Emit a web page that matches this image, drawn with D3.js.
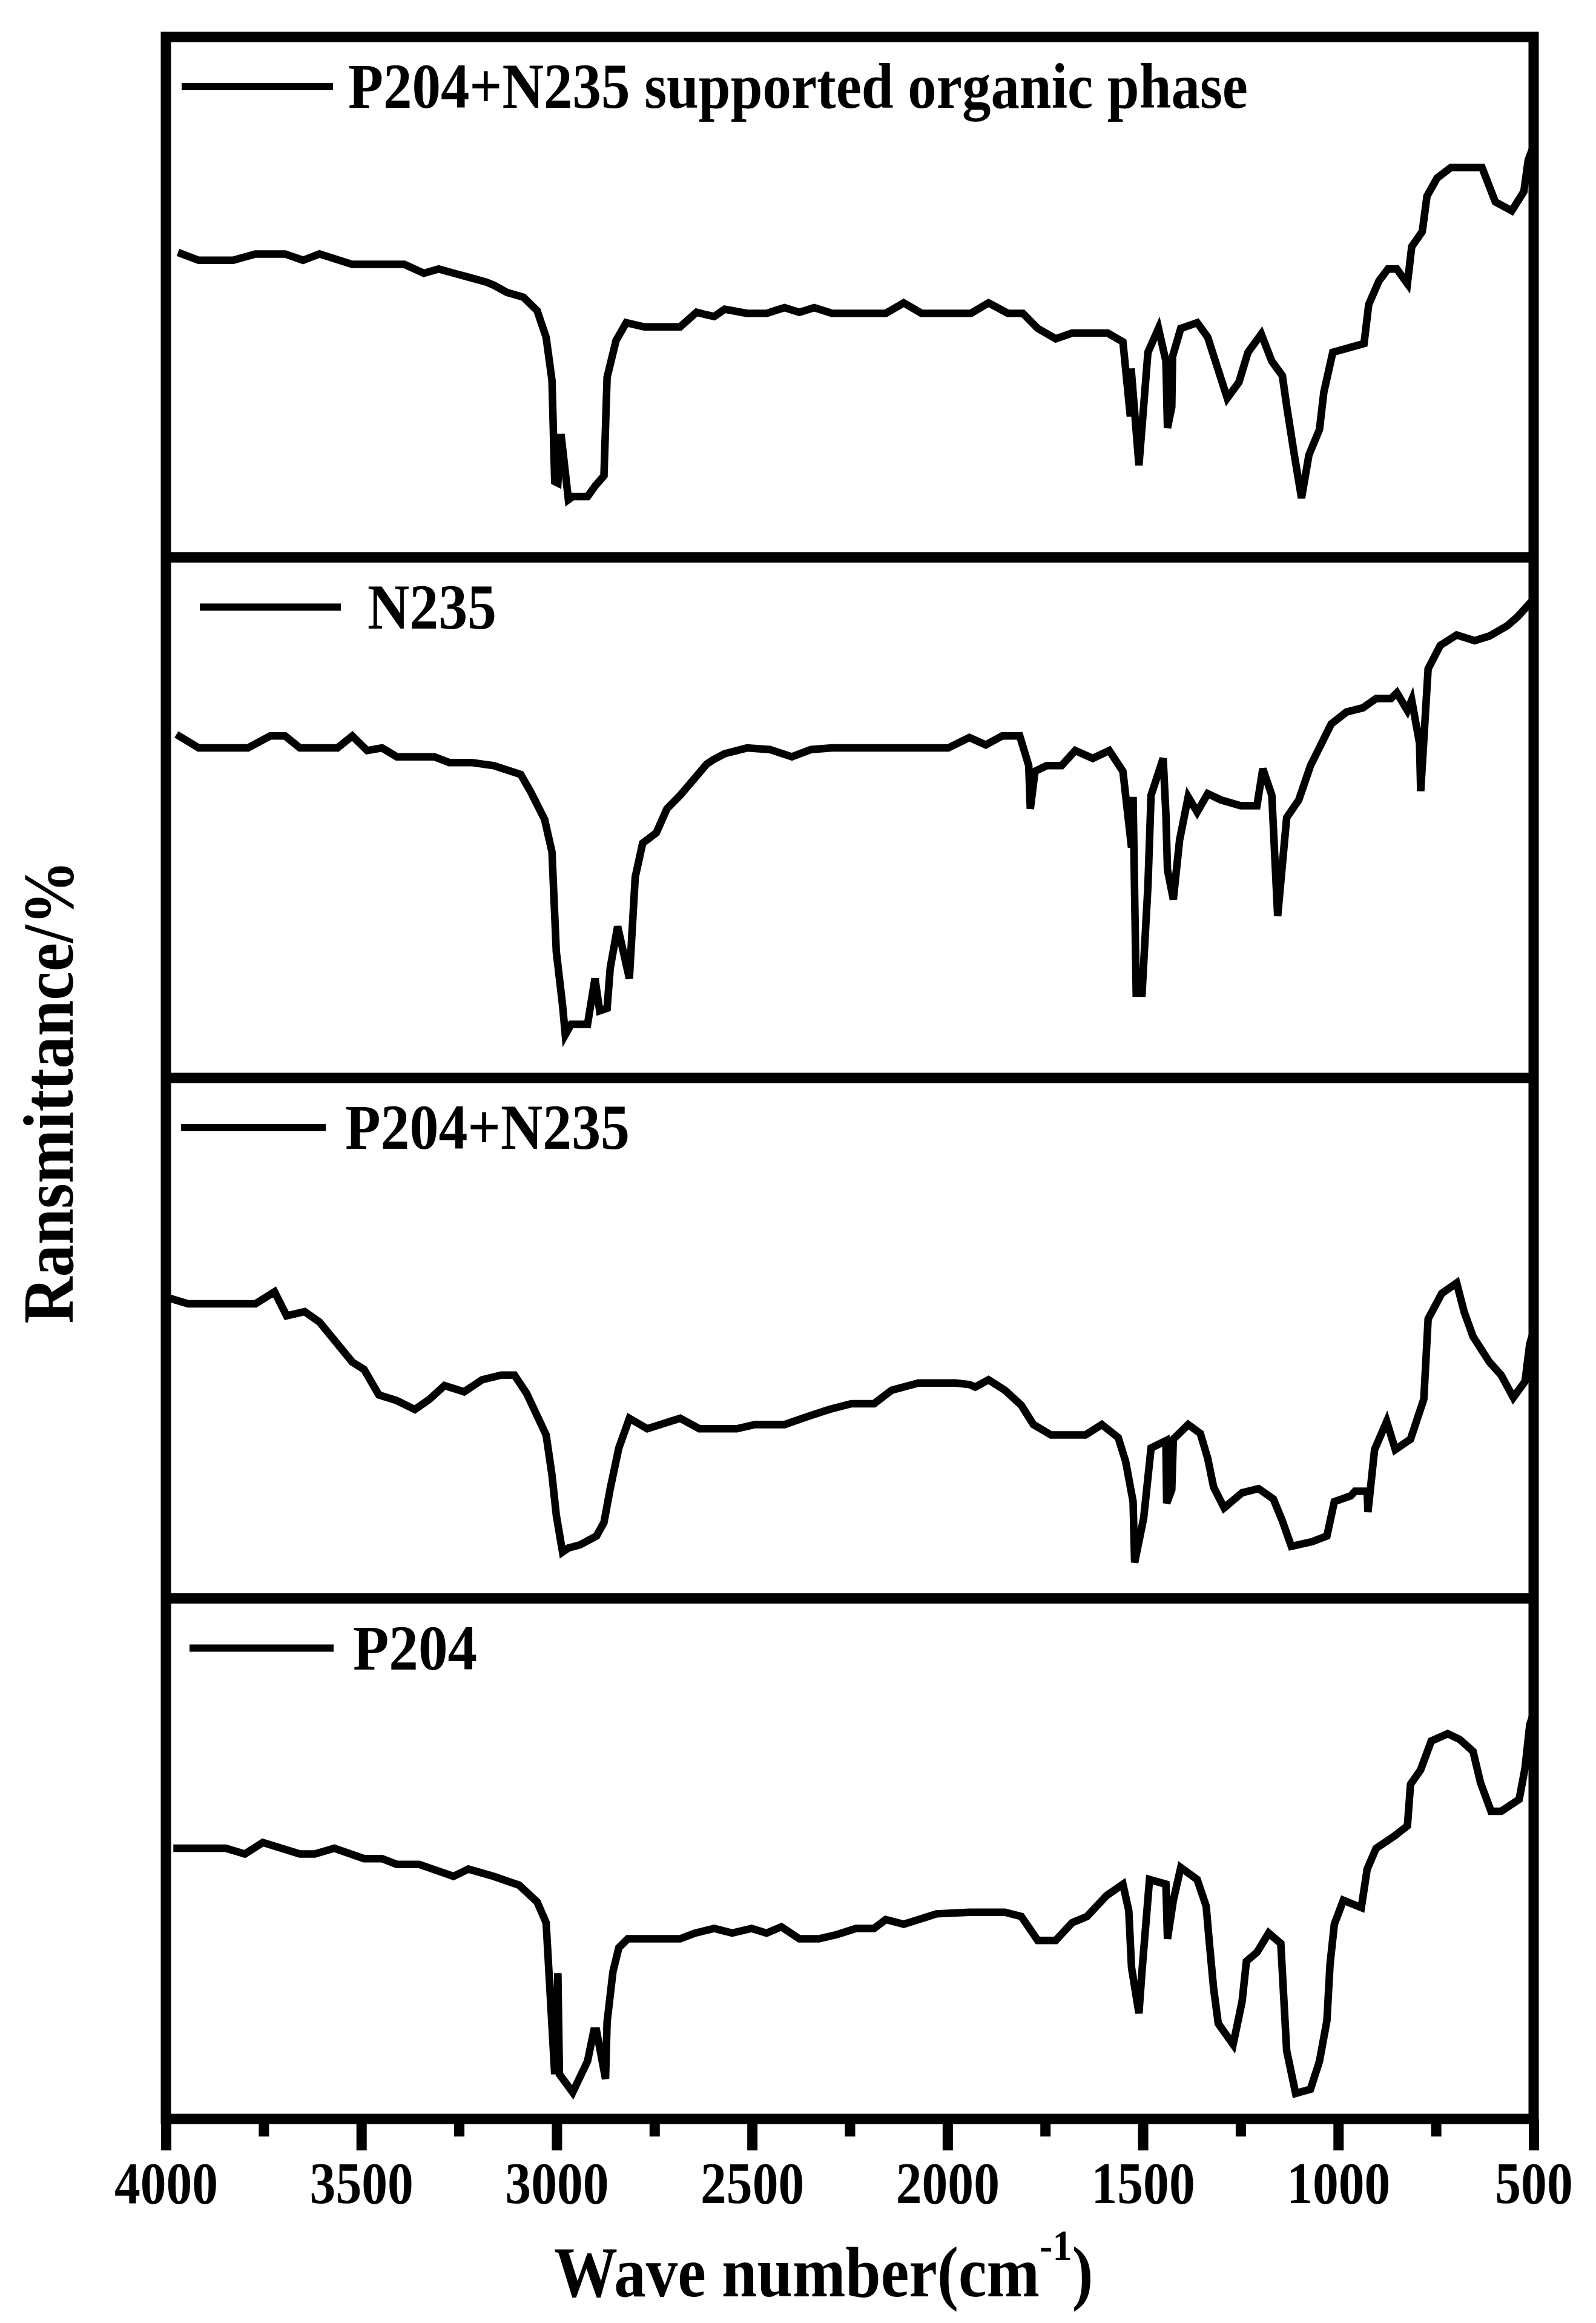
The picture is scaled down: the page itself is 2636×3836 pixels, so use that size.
<!DOCTYPE html>
<html>
<head>
<meta charset="utf-8">
<script src="https://cdn.jsdelivr.net/npm/d3@7"></script>
<style>
body { margin: 0; background: #fff; }
text { font-family: "Liberation Serif", "Times New Roman", serif; font-weight: bold; fill: #000; }
</style>
</head>
<body>
<div id="content"></div>
<script>
// FTIR spectra, four stacked panels (top to bottom)
var names = ["P204+N235 supported organic phase", "N235", "P204+N235", "P204"];

var waveSupported = [3969,3916,3828,3771,3695,3649,3607,3523,3390,3340,3302,3180,3161,3127,3085,3050,3027,3012,3005,2997,2989,2970,2959,2921,2902,2879,2871,2848,2822,2776,2684,2642,2616,2597,2570,2513,2463,2417,2379,2341,2295,2158,2112,2066,1940,1895,1845,1807,1769,1723,1681,1590,1551,1532,1530,1510,1487,1460,1441,1437,1426,1424,1403,1361,1334,1311,1284,1254,1231,1197,1170,1143,1132,1113,1094,1075,1048,1037,1014,934,922,896,873,850,823,812,785,773,747,712,632,598,556,525,514,500];
var transSupported = [58.6,57.1,57.1,58.3,58.3,57.1,58.3,56.3,56.3,54.6,55.4,52.9,52.3,50.9,50.0,47.4,42.3,34.0,14.6,14.3,23.7,11.1,11.7,11.7,13.7,15.7,34.6,41.7,45.1,44.3,44.3,47.1,46.6,46.3,47.7,46.9,46.9,48.0,47.1,48.0,46.9,46.9,48.9,46.9,46.9,48.9,46.9,46.9,44.0,42.0,43.1,43.1,41.4,27.1,36.3,17.7,39.4,44.0,37.7,24.9,28.9,38.6,44.0,45.1,42.3,36.9,30.6,33.7,39.4,42.9,37.7,34.9,29.1,20.0,11.4,19.7,24.6,31.7,39.4,41.1,48.6,53.1,55.4,55.4,52.6,59.7,62.6,69.4,72.9,74.9,74.9,68.3,66.6,70.3,76.3,79.1];

var waveN235 = [3973,3916,3790,3733,3695,3657,3561,3523,3485,3447,3409,3313,3275,3218,3161,3092,3066,3031,3012,3001,2985,2978,2963,2921,2902,2890,2871,2863,2844,2814,2799,2780,2745,2718,2684,2616,2600,2570,2513,2455,2398,2349,2295,1998,1944,1902,1860,1815,1792,1788,1776,1746,1708,1673,1628,1586,1551,1529,1525,1517,1502,1487,1479,1448,1441,1437,1422,1406,1384,1361,1334,1300,1250,1208,1193,1170,1155,1132,1101,1071,1018,979,937,903,865,850,823,812,792,789,770,739,697,651,613,567,541,500];
var transN235 = [66.0,63.4,63.4,65.7,65.7,63.4,63.4,65.7,62.9,63.4,61.7,61.7,60.6,60.6,60.0,58.3,54.9,49.7,43.4,24.3,14.0,8.3,10.3,10.3,19.1,12.9,13.4,21.1,29.1,19.1,38.6,45.1,47.1,51.7,54.3,60.3,61.1,62.3,63.4,63.1,61.7,63.1,63.4,63.4,65.4,64.0,65.7,65.7,60.0,51.7,58.9,60.0,60.0,62.9,61.4,62.9,58.9,44.3,54.0,16.3,16.3,36.9,54.3,61.4,50.6,40.0,34.3,45.7,54.0,51.1,54.6,53.4,52.3,52.3,59.4,54.3,31.1,50.0,53.4,60.0,68.0,70.3,71.1,72.9,72.9,74.0,70.6,72.6,64.3,55.1,78.6,83.1,85.1,84.0,84.9,86.9,88.6,92.0];

var waveMix = [3992,3943,3771,3722,3691,3645,3607,3561,3523,3493,3455,3409,3363,3325,3287,3237,3191,3142,3108,3077,3050,3027,3012,3001,2985,2970,2940,2898,2879,2863,2841,2814,2768,2684,2635,2616,2539,2493,2417,2360,2303,2246,2188,2143,2074,1979,1944,1929,1895,1853,1811,1780,1735,1647,1605,1563,1544,1525,1521,1498,1479,1441,1439,1426,1422,1384,1353,1334,1319,1292,1246,1204,1166,1143,1120,1067,1029,1010,968,957,926,924,907,876,854,815,781,770,735,697,678,655,613,583,552,522,510,500];
var transMix = [57.7,56.6,56.6,58.9,54.3,55.1,53.1,48.9,45.4,44.0,39.1,38.0,36.3,38.3,40.9,39.7,42.0,42.9,42.9,39.4,35.1,31.4,23.7,16.0,8.9,9.7,10.3,12.0,14.6,21.1,28.9,34.6,32.6,34.6,32.6,32.6,32.6,33.4,33.4,34.9,36.3,37.4,37.4,40.0,41.4,41.4,41.1,40.6,42.0,40.0,37.1,33.4,31.4,31.4,33.4,30.9,26.3,18.6,6.9,15.4,28.9,30.3,18.3,20.9,30.6,33.4,31.7,26.9,21.4,17.4,20.3,21.1,19.1,14.9,10.0,10.9,12.0,18.6,19.7,20.6,20.6,16.6,28.6,34.0,28.6,30.6,38.3,53.7,58.6,60.6,55.1,50.3,45.4,42.9,38.6,41.7,48.9,51.4];

var waveP204 = [3981,3847,3798,3752,3657,3619,3569,3493,3447,3409,3352,3294,3264,3226,3161,3096,3050,3027,3005,2997,2993,2959,2921,2905,2898,2875,2871,2856,2841,2818,2684,2646,2597,2551,2501,2463,2425,2379,2329,2284,2234,2188,2158,2112,2028,1944,1853,1811,1769,1723,1681,1643,1593,1551,1536,1529,1510,1502,1483,1441,1437,1422,1403,1361,1338,1330,1319,1307,1269,1246,1235,1208,1178,1147,1132,1109,1071,1048,1029,1021,1010,987,941,926,903,857,823,815,789,762,720,689,655,636,609,583,537,522,510,500];
var transP204 = [52.0,52.0,50.9,53.1,50.9,50.9,52.0,50.0,50.0,48.9,48.9,47.4,46.6,48.0,46.6,44.9,41.7,37.7,8.6,28.0,8.6,5.1,11.1,16.9,16.9,7.7,18.6,28.3,32.9,34.6,34.6,35.7,36.6,35.7,36.6,35.7,36.9,34.6,34.6,35.4,36.6,36.6,38.3,37.4,39.4,39.7,39.7,38.9,34.3,34.3,37.7,38.9,42.9,45.1,40.0,29.1,20.3,28.6,46.0,45.1,34.6,42.0,48.3,46.0,40.9,34.0,25.1,18.3,14.3,22.6,30.3,32.0,35.7,33.7,13.1,4.9,5.7,11.1,18.9,29.7,37.4,42.0,40.6,48.0,52.0,54.3,56.3,64.3,67.1,72.6,74.0,72.9,70.6,64.6,59.1,59.1,61.4,67.4,75.7,78.0];

var majorTicks = [4000, 3500, 3000, 2500, 2000, 1500, 1000, 500];
var minorTicks = [3750, 3250, 2750, 2250, 1750, 1250, 750];

var width = 2636, height = 3836;
var plotLeft = 274, plotRight = 2533, plotTop = 61, plotBottom = 3499;
var panelH = (plotBottom - plotTop) / 4;

// legend placement per panel: line start, line end, text x, text width
var legendPos = [[300, 550, 575, 1486], [330, 563, 607, 213], [299, 538, 570, 470], [313, 551, 583, 205]];

var series = [
  {name: names[0], wave: waveSupported, trans: transSupported},
  {name: names[1], wave: waveN235, trans: transN235},
  {name: names[2], wave: waveMix, trans: transMix},
  {name: names[3], wave: waveP204, trans: transP204}
];

var svg = d3.select("#content").append("svg")
    .attr("width", width)
    .attr("height", height)
    .style("background", "#fff");

var x = d3.scaleLinear().domain([4000, 500]).range([plotLeft, plotRight]);

series.forEach(function(s, i) {
  var y0 = plotTop + i * panelH;
  var y = d3.scaleLinear().domain([0, 100]).range([y0 + panelH, y0]);
  var line = d3.line()
      .x(function(d) { return x(d[0]); })
      .y(function(d) { return y(d[1]); });

  svg.append("path")
      .datum(d3.zip(s.wave, s.trans))
      .attr("d", line)
      .attr("fill", "none")
      .attr("stroke", "#000")
      .attr("stroke-width", 12.5)
      .attr("stroke-linejoin", "miter");

  // legend
  var lp = legendPos[i];
  svg.append("line")
      .attr("x1", lp[0]).attr("x2", lp[1])
      .attr("y1", y0 + 82).attr("y2", y0 + 82)
      .attr("stroke", "#000")
      .attr("stroke-width", 12);
  svg.append("text")
      .attr("x", lp[2])
      .attr("y", y0 + 117)
      .attr("font-size", 106)
      .attr("textLength", lp[3])
      .attr("lengthAdjust", "spacingAndGlyphs")
      .text(s.name);
});

// frame and panel dividers
svg.append("rect")
    .attr("x", plotLeft).attr("y", plotTop)
    .attr("width", plotRight - plotLeft)
    .attr("height", plotBottom - plotTop)
    .attr("fill", "none")
    .attr("stroke", "#000")
    .attr("stroke-width", 17);

svg.selectAll(".divider")
    .data([1, 2, 3])
  .enter().append("line")
    .attr("class", "divider")
    .attr("x1", plotLeft).attr("x2", plotRight)
    .attr("y1", function(d) { return plotTop + d * panelH; })
    .attr("y2", function(d) { return plotTop + d * panelH; })
    .attr("stroke", "#000")
    .attr("stroke-width", 17);

// bottom axis: major ticks with labels, minor ticks without
var axisMajor = svg.append("g")
    .attr("transform", "translate(0," + plotBottom + ")")
    .call(d3.axisBottom(x).tickValues(majorTicks).tickSize(52).tickPadding(17).tickFormat(d3.format("d")));
var axisMinor = svg.append("g")
    .attr("transform", "translate(0," + plotBottom + ")")
    .call(d3.axisBottom(x).tickValues(minorTicks).tickSize(29).tickFormat(""));

[axisMajor, axisMinor].forEach(function(g) {
  g.select(".domain").remove();
  g.selectAll(".tick line").attr("stroke", "#000").attr("stroke-width", 17);
});
axisMajor.selectAll(".tick text")
    .attr("font-size", 98)
    .attr("font-family", "Liberation Serif")
    .attr("font-weight", "bold")
    .attr("fill", "#000")
    .attr("textLength", function(d) { return String(d).length * 42.8; })
    .attr("lengthAdjust", "spacingAndGlyphs");

// axis titles (x title in one text element, squeezed horizontally)
var xt = svg.append("text")
    .attr("transform", "translate(915,3792) scale(0.89,1)")
    .attr("font-size", 118);
xt.append("tspan").text("Wave number(cm");
xt.append("tspan").attr("font-size", 72).attr("dy", -60).text("-1");
xt.append("tspan").attr("dy", 60).text(")");

svg.append("text")
    .attr("transform", "translate(120,1803) rotate(-90)")
    .attr("text-anchor", "middle")
    .attr("font-size", 118)
    .attr("textLength", 765)
    .attr("lengthAdjust", "spacingAndGlyphs")
    .text("Ransmittance/%");
</script>
</body>
</html>
